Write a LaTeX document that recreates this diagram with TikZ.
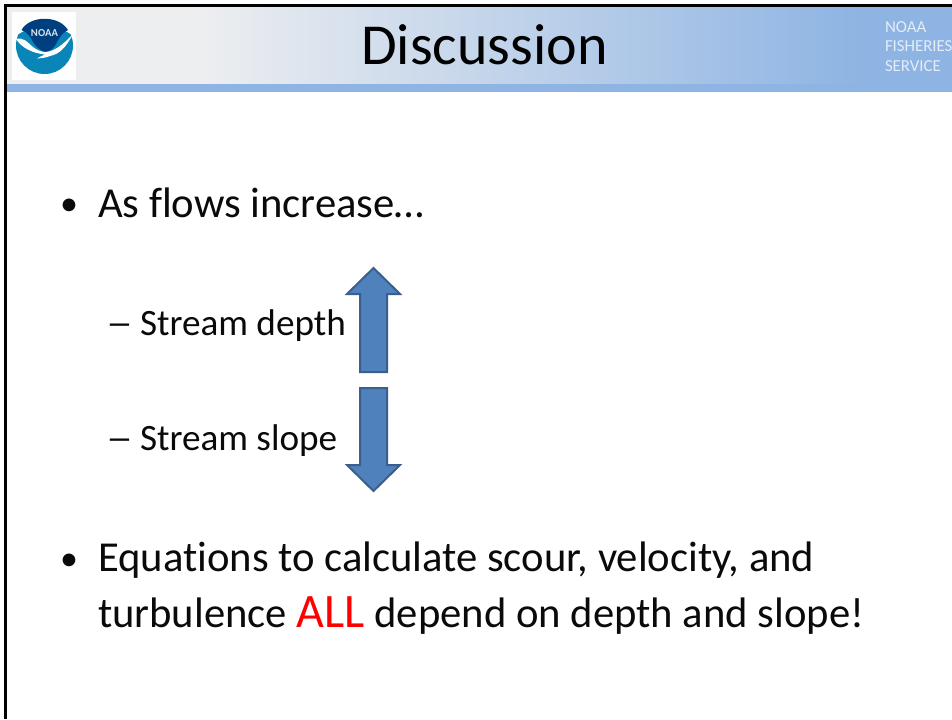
\documentclass[tikz,border=0pt]{standalone}
\usepackage{fontspec}
\setmainfont{Carlito}[Ligatures={NoCommon}]
\definecolor{bandblue}{HTML}{8EB4E3}
\definecolor{headlight}{HTML}{EDEEF0}
\definecolor{arrowfill}{HTML}{4F81BD}
\definecolor{arrowline}{HTML}{3A5F8F}
\definecolor{noaadark}{HTML}{003F7F}
\definecolor{noaalight}{HTML}{0A85B8}
\definecolor{tagtext}{HTML}{E4ECF7}
\definecolor{inktext}{HTML}{0A0A0A}
\tikzset{
  body/.style={anchor=base west,inner sep=0pt,outer sep=0pt,text=inktext,font=\fontsize{32}{34}\selectfont},
  bulletmark/.style={anchor=base west,inner sep=0pt,outer sep=0pt,text=inktext,font=\fontsize{27}{30}\selectfont},
  subbody/.style={anchor=base west,inner sep=0pt,outer sep=0pt,text=inktext,font=\fontsize{27.9}{30}\selectfont},
  dashmark/.style={subbody,transform shape,xscale=1.45},
  tag/.style={anchor=base west,inner sep=0pt,outer sep=0pt,text=tagtext,font=\fontsize{12.6}{14}\selectfont},
  bigarrow/.style={fill=arrowfill,draw=arrowline,line width=1.5pt,line join=miter}
}
\begin{document}
\begin{tikzpicture}[x=0.75pt,y=-0.75pt]
\useasboundingbox (0,0) rectangle (952,719);
\fill[white] (0,0) rectangle (952,719);
% header
\fill[headlight] (7,7) rectangle (200,84);
\shade[left color=headlight,right color=bandblue] (200,7) rectangle (860,84);
\fill[bandblue] (860,7) rectangle (952,84);
\fill[bandblue] (7,84) rectangle (952,92);
% frame
\fill[black] (4,4) rectangle (952,7);
\fill[black] (4,4) rectangle (7,719);
% logo
\fill[white!97!headlight] (12,12) rectangle (76,80);
\fill[noaalight] (44.5,45.5) circle[radius=28.5];
\fill[white!97!headlight] (16,36) .. controls (30,24) and (60,24) .. (73,36) -- (73,14) -- (16,14) -- cycle;
\fill[noaadark] (21.5,30) .. controls (30,15) and (59,15) .. (68,30)
  .. controls (62,33) and (59,38) .. (56,44) .. controls (53,49) and (50,51) .. (45,52)
  .. controls (40,50) and (36,47) .. (33,42) .. controls (30,36) and (27,32) .. (21.5,30) -- cycle;
\fill[white] (16,39) .. controls (24,37) and (27,42) .. (33,47) .. controls (37,50) and (41,52) .. (46,52)
  .. controls (54,51) and (62,46) .. (73,34) .. controls (66,47) and (60,54) .. (50,56)
  .. controls (46,58) and (41,58) .. (37,58.5) .. controls (41,56) and (43,55.5) .. (45,54.5)
  .. controls (32,53) and (22,48) .. (16,39) -- cycle;
\node[inner sep=0pt,text=white!85!noaadark,font=\bfseries\fontsize{8}{9}\selectfont] (logotext) at (44.5,33.5) {NOAA};
% title and tag
\node[anchor=base,inner sep=0pt,text=black,font=\fontsize{43.5}{46}\selectfont] (title) at (484.5,64.5) {Discussion};
\node[tag] (tagone) at (885,32) {NOAA};
\node[tag] (tagtwo) at (885,51) {FISHERIES};
\node[tag] (tagthree) at (885,71) {SERVICE};
% text
\node[bulletmark] (bulletone) at (60,215.5) {•};
\node[body] (lineone) at (98,217) {As flows increase…};
\node[dashmark] (dashone) at (106,335) {–};
\node[subbody] (depth) at (140,335) {Stream depth};
\node[dashmark] (dashtwo) at (106,450) {–};
\node[subbody] (slope) at (140,450) {Stream slope};
\node[bulletmark] (bullettwo) at (60,570) {•};
\node[body] (linetwo) at (98,571) {Equations to calculate scour, velocity, and};
\node[body] (linethree) at (98,627) {turbulence \textcolor{red}{\fontsize{36}{38}\selectfont ALL} depend on depth and slope!};
% arrows
\draw[bigarrow] (373.5,268) -- (400,294) -- (387,294) -- (387,372) -- (360,372) -- (360,294) -- (347,294) -- cycle;
\draw[bigarrow] (373.5,491) -- (400,465) -- (387,465) -- (387,388) -- (360,388) -- (360,465) -- (347,465) -- cycle;
\end{tikzpicture}
\end{document}
